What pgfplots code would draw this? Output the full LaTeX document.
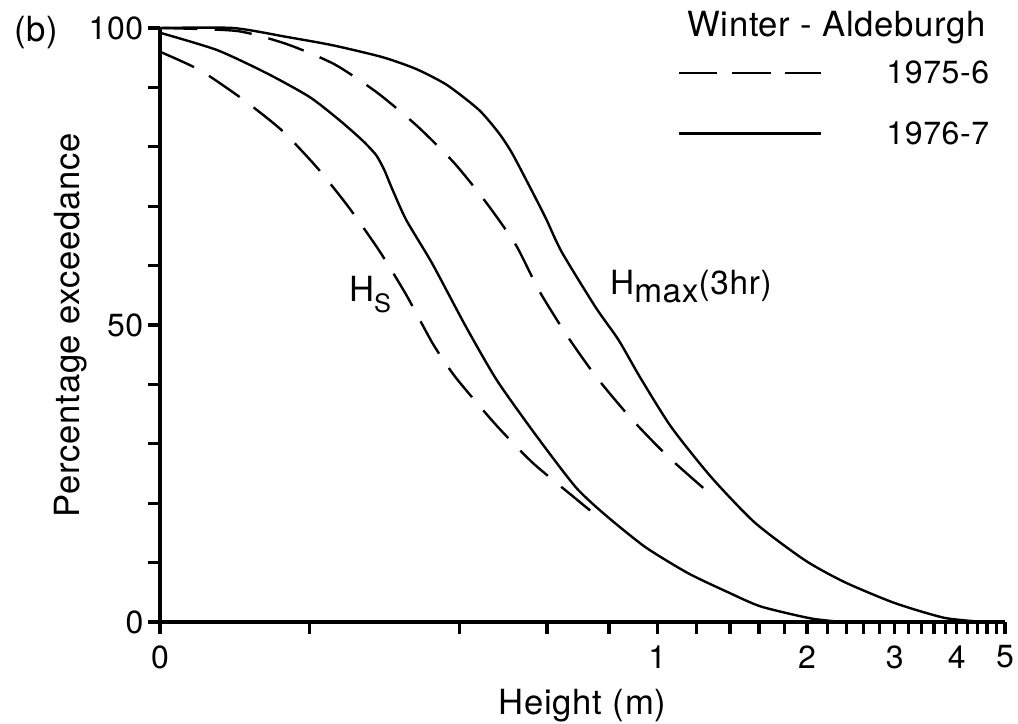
\documentclass[border=0pt]{standalone}
\usepackage{fontspec}
\setmainfont[LetterSpace=2]{TeX Gyre Heros}
\usepackage{pgfplots}
\pgfplotsset{compat=1.18}

% Exceedance curves, winter at Aldeburgh (heights on a log scale, 0.1 m shown as 0)
\pgfplotstableread{
h      p
0.1    96.0
0.1203 92.9
0.1467 88.0
0.1756 82.8
0.2064 76.6
0.2392 69.9
0.2760 62.5
0.3126 55.1
0.3540 46.8
0.3938 41.1
0.4735 33.2
0.5615 26.8
0.6822 20.9
0.7724 17.2
}\hsA
\pgfplotstableread{
h      p
0.1    99.2
0.1301 96.3
0.1638 92.4
0.1998 88.4
0.2294 84.5
0.2551 81.1
0.2720 78.6
0.2825 76.1
0.2920 73.2
0.3126 67.7
0.3524 60.4
0.4123 49.7
0.4757 40.7
0.5693 31.5
0.6853 22.7
0.7866 18.0
0.9463 12.6
1.1537 8.2
1.3877 5.0
1.6160 2.6
2.0350 0.6
2.36   0
}\hsB
\pgfplotstableread{
h      p
0.1    100
0.1427 99.5
0.1797 97.3
0.2242 93.9
0.2735 89.1
0.3289 83.5
0.3903 77.3
0.4520 70.7
0.5192 63.5
0.5774 55.9
0.6572 48.3
0.7548 41.2
0.8869 34.2
1.0520 27.8
1.2710 21.7
}\hmA
\pgfplotstableread{
h      p
0.1    100
0.1401 100
0.1797 98.5
0.2222 97.1
0.2799 95.1
0.3273 93.1
0.3777 90.4
0.4380 86.2
0.4802 82.3
0.5098 79.0
0.5514 73.6
0.5965 68.0
0.6422 62.3
0.7513 53.0
0.8353 47.5
0.9245 41.1
1.0668 32.8
1.2828 24.4
1.5719 16.7
1.9800 10.4
2.3813 6.7
2.9990 3.2
3.7776 0.7
4.55   0
}\hmB

\begin{document}
\begin{tikzpicture}
\begin{axis}[
  at={(0,0)}, anchor=south west,
  scale only axis, width=633.75pt, height=445.5pt,
  xmode=log, xmin=0.1, xmax=5, ymin=0, ymax=100,
  axis x line=bottom, axis y line=left,
  axis line style={line width=3.5pt, -},
  xtick={0.1,1,2,3,4,5}, xticklabels={0,1,2,3,4,5},
  minor xtick={0.2,0.4,0.6,0.8,1.2,1.4,1.6,1.8,2.2,2.4,2.6,2.8,3.2,3.4,3.6,3.8,4.2,4.4,4.6,4.8},
  ytick={0,50,100}, yticklabels={0,50,100},
  minor ytick={10,20,30,40,60,70,80,90},
  tick align=outside, major tick length=9pt, minor tick length=9pt,
  every tick/.style={line width=2.5pt, black},
  /pgf/number format/assume math mode=true,
  ticklabel style={font=\fontsize{24}{24}\selectfont},
  xticklabel style={yshift=-5pt},
  xlabel={Height (m)}, ylabel={Percentage exceedance},
  label style={font=\fontsize{26}{26}\selectfont},
  xlabel style={yshift=-9pt},
  ylabel shift=-6pt,
  clip=false,
  legend style={draw=none, fill=none, at={(axis description cs:0.612,0.95)}, anchor=north west,
    font=\fontsize{24}{24}\selectfont, row sep=23pt, column sep=46pt, inner sep=0pt},
  legend cell align=right,
  legend image code/.code={\draw[#1] (0pt,0pt) -- (107pt,0pt);},
]
\addlegendimage{line width=1.8pt, dash pattern=on 29pt off 11pt}
\addlegendentry{1975-6}
\addlegendimage{line width=1.8pt}
\addlegendentry{1976-7}

\addplot[forget plot, smooth, tension=0.4, line width=1.8pt, dash pattern=on 28pt off 13pt] table[x=h, y=p] {\hsA};
\addplot[forget plot, smooth, tension=0.4, line width=1.8pt] table[x=h, y=p] {\hsB};
\addplot[forget plot, smooth, tension=0.4, line width=1.8pt, dash pattern=on 28pt off 13pt] table[x=h, y=p] {\hmA};
\addplot[forget plot, smooth, tension=0.4, line width=1.8pt] table[x=h, y=p] {\hmB};

\node[anchor=base west, font=\fontsize{26}{26}\selectfont] at (axis cs:0.2348,53.9)
  {H\raisebox{-8pt}{\fontsize{19}{19}\selectfont S}};
\node[anchor=base west, font=\fontsize{25}{25}\selectfont] at (axis cs:0.7867,55.05)
  {H\raisebox{-6pt}{max}(3hr)};
\end{axis}
\node[anchor=base west, font=\fontsize{26}{26}\selectfont] at (-112.5pt,435pt) {(b)};
\node[anchor=base west, font=\fontsize{26}{26}\selectfont] at (392pt,439pt) {Winter - Aldeburgh};
\pgfresetboundingbox
\path[use as bounding box] (-120pt,-76.5pt) rectangle (643.5pt,466.5pt);
\end{tikzpicture}
\end{document}
